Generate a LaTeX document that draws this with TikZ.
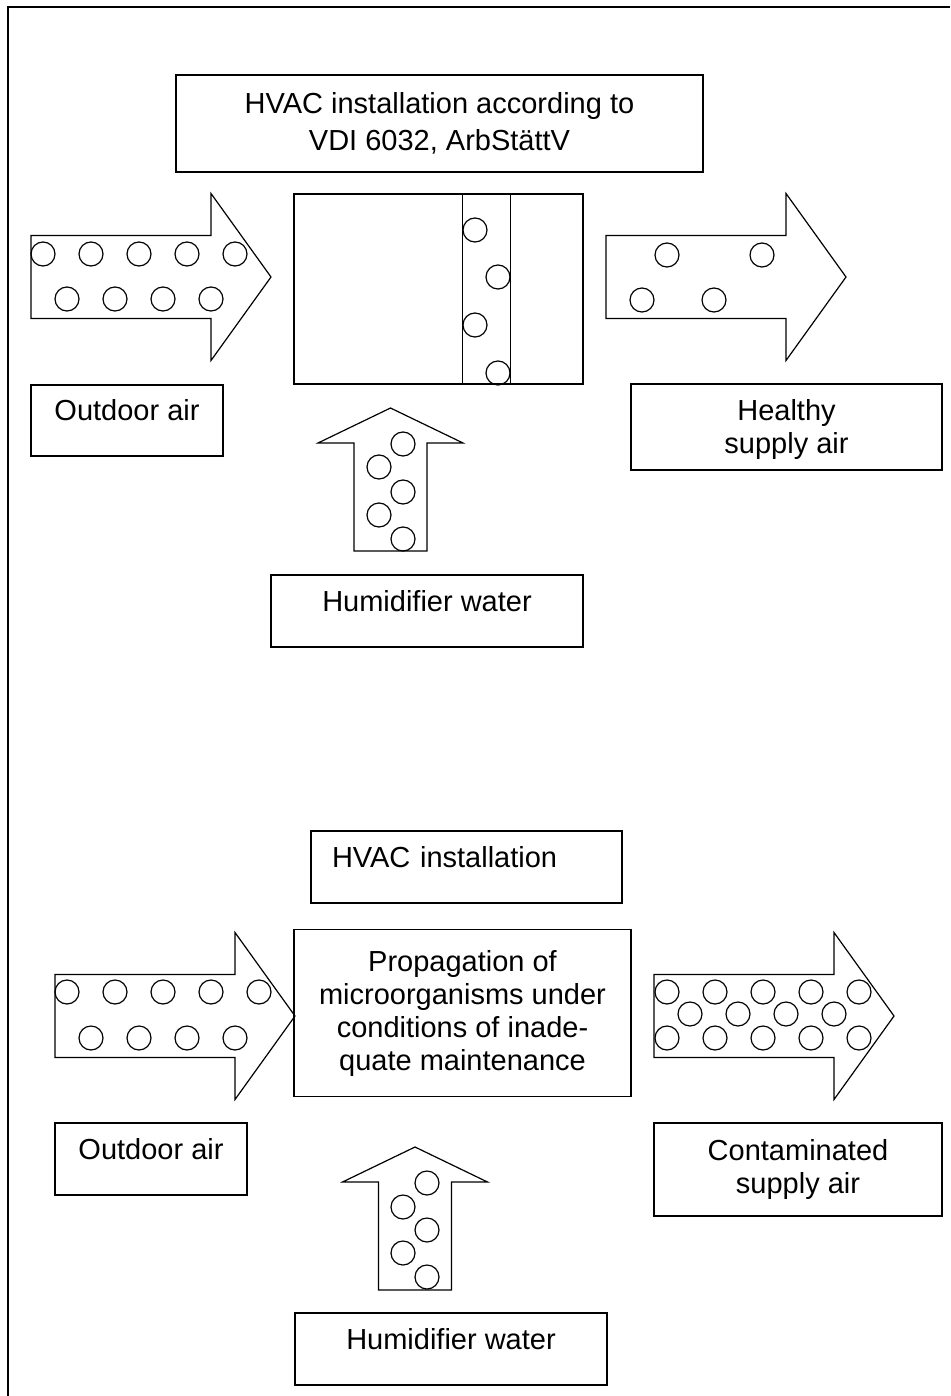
\documentclass[tikz,border=0pt]{standalone}
\usepackage{fontspec}
\setmainfont{Liberation Sans}
\usepackage{tikz}

\begin{document}
\begin{tikzpicture}[
            x=1pt, y=-1pt,
            box/.style={draw, line width=1.2pt, inner sep=0pt, align=center, font=\fontsize{29}{33}\selectfont},
            raised/.style={text height=10pt, text depth=10pt},
            outline/.style={line width=1.2pt},
            bubble/.style={line width=1.2pt},
            pics/airarrow/.style={code={
                \draw[outline] (0,-41.5) -- (180,-41.5) -- (180,-83.5) -- (240,0) -- (180,83.5) -- (180,41.5) -- (0,41.5) -- cycle;}},
            pics/waterarrow/.style={code={
                \draw[outline] (-36.5,0) -- (-36.5,-108) -- (-72.5,-108) -- (0,-143) -- (72.5,-108) -- (36.5,-108) -- (36.5,0) -- cycle;}}
        ]
        \useasboundingbox (0,0) rectangle (950,1396);

        % frame
        \draw[line width=2pt] (7.5,1396) -- (7.5,6.7) -- (950,6.7);

        % top: proper installation
        \node[box, font=\fontsize{29}{37}\selectfont, minimum width=527pt, minimum height=97pt] (hvacA) at (439.5,123.5) {HVAC installation according to\\VDI 6032, ArbStättV};
        \node[box, minimum width=289pt, minimum height=190pt] (unit) at (438.5,289) {};
        \node[box, raised, minimum width=192pt, minimum height=71pt] (outdoorA) at (127,420.5) {Outdoor air};
        \node[box, text height=60pt, minimum width=311pt, minimum height=86pt] (healthy) at (786.5,427) {Healthy\\supply air};
        \node[box, raised, minimum width=312pt, minimum height=72pt] (humidA) at (427,611) {Humidifier water};

        \draw[outline] ([xshift=169pt]unit.north west) -- ([xshift=169pt]unit.south west);
        \draw[outline] ([xshift=217pt]unit.north west) -- ([xshift=217pt]unit.south west);

        \pic at (31,277) {airarrow};
        \pic at (606,277) {airarrow};
        \pic at (390.5,551) {waterarrow};

        \foreach \i in {0,...,4} \draw[bubble] (43+48*\i,254) circle[radius=12];
        \foreach \i in {0,...,3} \draw[bubble] (67+48*\i,299) circle[radius=12];
        \foreach \px/\py in {475/230, 498/277, 475/325, 498/373} \draw[bubble] (\px,\py) circle[radius=12];
        \foreach \px/\py in {403/444, 379/467, 403/492, 379/515, 403/539} \draw[bubble] (\px,\py) circle[radius=12];
        \foreach \px/\py in {667/255, 762/255, 642/300, 714/300} \draw[bubble] (\px,\py) circle[radius=12];

        % bottom: poor maintenance
        \node[box, raised, minimum width=311pt, minimum height=72pt, inner xsep=21pt, text width=269pt, align=left] (hvacB) at (466.5,867) {HVAC installation};
        \node[box, minimum width=337pt, minimum height=167pt] (propag) at (462.5,1013) {Propagation of\\microorganisms under\\conditions of inade-\\quate maintenance};
        \node[box, raised, minimum width=192pt, minimum height=72pt] (outdoorB) at (151,1159) {Outdoor air};
        \node[box, minimum width=288pt, minimum height=93pt] (contam) at (798,1169.5) {Contaminated\\supply air};
        \node[box, raised, minimum width=312pt, minimum height=72pt] (humidB) at (451,1349) {Humidifier water};

        \pic at (55,1016) {airarrow};
        \pic at (654,1016) {airarrow};
        \pic at (415,1290) {waterarrow};

        \foreach \i in {0,...,4} \draw[bubble] (67+48*\i,992) circle[radius=12];
        \foreach \i in {0,...,3} \draw[bubble] (91+48*\i,1038) circle[radius=12];
        \foreach \px/\py in {427/1183, 403/1207, 427/1230, 403/1253, 427/1277} \draw[bubble] (\px,\py) circle[radius=12];
        \foreach \i in {0,...,4} {
            \draw[bubble] (667+48*\i,992) circle[radius=12];
            \draw[bubble] (667+48*\i,1038) circle[radius=12];
        }
        \foreach \i in {0,...,3} \draw[bubble] (690+48*\i,1014) circle[radius=12];

    \end{tikzpicture}
\end{document}
